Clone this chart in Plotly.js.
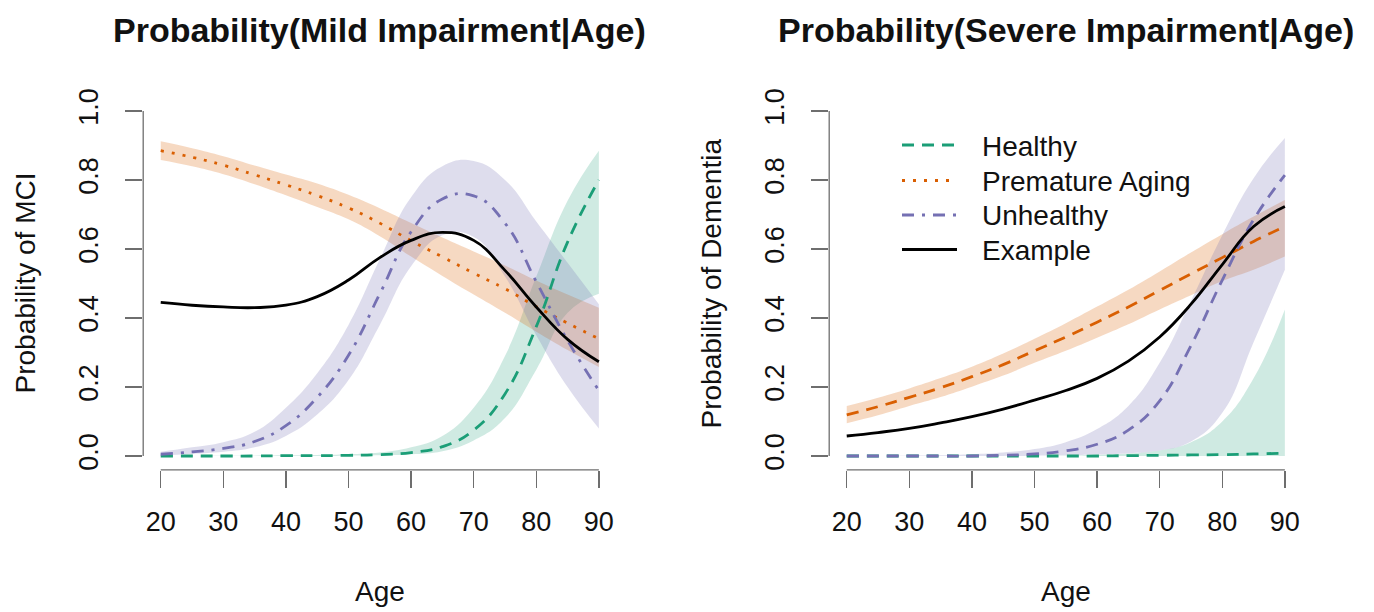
<!DOCTYPE html>
<html>
<head>
<meta charset="utf-8">
<script src="https://cdn.plot.ly/plotly-3.0.1.min.js"></script>
<style>
  html, body { margin: 0; padding: 0; background: #ffffff; }
  #chart { width: 1374px; height: 612px; }
</style>
</head>
<body>
<div id="chart"></div>
<script>
// ---------- data ----------
const ages = [20, 25, 30, 35, 40, 45, 50, 55, 60, 65, 70, 75, 80, 85, 90];
const xTicks = [20, 30, 40, 50, 60, 70, 80, 90];
const yTicks = [0, 0.2, 0.4, 0.6, 0.8, 1.0];
const yTickText = ['0.0', '0.2', '0.4', '0.6', '0.8', '1.0'];
const seriesNames = ['Healthy', 'Premature Aging', 'Unhealthy', 'Example'];

// Panel 1: Probability(Mild Impairment|Age)
const mildHealthy    = [0.000, 0.000, 0.000, 0.000, 0.001, 0.001, 0.002, 0.004, 0.010, 0.027, 0.075, 0.180, 0.375, 0.620, 0.800];
const mildHealthyLo  = [0.000, 0.000, 0.000, 0.000, 0.000, 0.000, 0.001, 0.002, 0.005, 0.014, 0.045, 0.110, 0.250, 0.415, 0.470];
const mildHealthyHi  = [0.000, 0.000, 0.001, 0.001, 0.002, 0.003, 0.005, 0.010, 0.025, 0.058, 0.140, 0.290, 0.520, 0.740, 0.885];
const mildPremature   = [0.885, 0.866, 0.843, 0.815, 0.786, 0.755, 0.719, 0.675, 0.624, 0.577, 0.530, 0.485, 0.433, 0.385, 0.340];
const mildPrematureLo = [0.858, 0.840, 0.817, 0.788, 0.756, 0.722, 0.686, 0.637, 0.578, 0.522, 0.468, 0.415, 0.360, 0.307, 0.258];
const mildPrematureHi = [0.912, 0.892, 0.869, 0.842, 0.816, 0.790, 0.757, 0.718, 0.675, 0.633, 0.593, 0.552, 0.509, 0.468, 0.430];
const mildUnhealthy   = [0.005, 0.012, 0.022, 0.042, 0.088, 0.170, 0.292, 0.470, 0.650, 0.745, 0.754, 0.675, 0.505, 0.335, 0.190];
const mildUnhealthyLo = [0.002, 0.006, 0.012, 0.025, 0.058, 0.120, 0.220, 0.380, 0.550, 0.640, 0.635, 0.520, 0.350, 0.200, 0.080];
const mildUnhealthyHi = [0.012, 0.025, 0.040, 0.070, 0.140, 0.240, 0.380, 0.570, 0.750, 0.840, 0.855, 0.800, 0.680, 0.560, 0.440];
const mildExample     = [0.445, 0.437, 0.432, 0.430, 0.437, 0.462, 0.510, 0.575, 0.625, 0.648, 0.625, 0.538, 0.432, 0.338, 0.273];

// Panel 2: Probability(Severe Impairment|Age)
const sevHealthy    = [0.000, 0.000, 0.000, 0.000, 0.000, 0.000, 0.000, 0.000, 0.000, 0.001, 0.002, 0.003, 0.004, 0.006, 0.008];
const sevHealthyLo  = [0.000, 0.000, 0.000, 0.000, 0.000, 0.000, 0.000, 0.000, 0.000, 0.000, 0.000, 0.000, 0.000, 0.000, 0.000];
const sevHealthyHi  = [0.000, 0.000, 0.000, 0.000, 0.000, 0.000, 0.000, 0.001, 0.003, 0.007, 0.016, 0.040, 0.100, 0.225, 0.425];
const sevPremature   = [0.119, 0.143, 0.170, 0.198, 0.230, 0.265, 0.305, 0.345, 0.388, 0.432, 0.480, 0.528, 0.575, 0.622, 0.665];
const sevPrematureLo = [0.095, 0.118, 0.145, 0.171, 0.201, 0.233, 0.270, 0.305, 0.343, 0.382, 0.425, 0.466, 0.507, 0.540, 0.578];
const sevPrematureHi = [0.145, 0.169, 0.196, 0.226, 0.259, 0.297, 0.340, 0.385, 0.433, 0.482, 0.535, 0.590, 0.643, 0.694, 0.742];
const sevUnhealthy   = [0.000, 0.000, 0.000, 0.000, 0.000, 0.002, 0.006, 0.015, 0.034, 0.075, 0.160, 0.320, 0.510, 0.685, 0.814];
const sevUnhealthyLo = [0.000, 0.000, 0.000, 0.000, 0.000, 0.000, 0.001, 0.002, 0.004, 0.008, 0.016, 0.042, 0.125, 0.330, 0.540];
const sevUnhealthyHi = [0.000, 0.000, 0.001, 0.002, 0.005, 0.010, 0.020, 0.040, 0.078, 0.145, 0.270, 0.450, 0.640, 0.805, 0.922];
const sevExample     = [0.058, 0.068, 0.080, 0.096, 0.114, 0.136, 0.162, 0.190, 0.225, 0.275, 0.345, 0.440, 0.555, 0.665, 0.723];

// ---------- styling ----------
const GREEN = '#1b9e77', ORANGE = '#d95f02', PURPLE = '#7570b3', BLACK = '#000000';
const GREEN_BAND = 'rgba(27,158,119,0.21)';
const ORANGE_BAND = 'rgba(217,95,2,0.24)';
const PURPLE_BAND = 'rgba(117,112,179,0.24)';
const DASHED = '12px,8px';
const DOTTED = '3px,8px';
const DASHDOT = '12px,8px,3px,8px';
const FONT = 'Liberation Sans, Arial, Helvetica, sans-serif';
const AXIS_GREY = '#6e6e6e';
const SMOOTH = 1.3;
const LINE_W = 2.8;

function band(xa, ya, lo, hi, fillColor) {
  return [
    { x: ages, y: lo, xaxis: xa, yaxis: ya, type: 'scatter', mode: 'lines',
      line: { width: 0, shape: 'spline', smoothing: SMOOTH }, hoverinfo: 'skip', showlegend: false },
    { x: ages, y: hi, xaxis: xa, yaxis: ya, type: 'scatter', mode: 'lines',
      line: { width: 0, shape: 'spline', smoothing: SMOOTH }, fill: 'tonexty', fillcolor: fillColor,
      hoverinfo: 'skip', showlegend: false }
  ];
}
function curve(xa, ya, vals, name, color, dash) {
  return { x: ages, y: vals, xaxis: xa, yaxis: ya, type: 'scatter', mode: 'lines', name: name,
    line: { color: color, width: LINE_W, dash: dash, shape: 'spline', smoothing: SMOOTH },
    showlegend: false };
}

// line styles as used in each panel (legend uses the left-panel styles)
const colors = [GREEN, ORANGE, PURPLE, BLACK];
const mildDash = [DASHED, DOTTED, DASHDOT, 'solid'];
const sevDash = [DASHED, DASHED, DASHED, 'solid'];

const traces = [].concat(
  band('x', 'y', mildHealthyLo, mildHealthyHi, GREEN_BAND),
  band('x', 'y', mildPrematureLo, mildPrematureHi, ORANGE_BAND),
  band('x', 'y', mildUnhealthyLo, mildUnhealthyHi, PURPLE_BAND),
  band('x2', 'y2', sevHealthyLo, sevHealthyHi, GREEN_BAND),
  band('x2', 'y2', sevPrematureLo, sevPrematureHi, ORANGE_BAND),
  band('x2', 'y2', sevUnhealthyLo, sevUnhealthyHi, PURPLE_BAND),
  [mildHealthy, mildPremature, mildUnhealthy, mildExample].map((v, i) =>
    curve('x', 'y', v, seriesNames[i], colors[i], mildDash[i])),
  [sevHealthy, sevPremature, sevUnhealthy, sevExample].map((v, i) =>
    curve('x2', 'y2', v, seriesNames[i], colors[i], sevDash[i]))
);

const W = 1374, H = 612;
const xDom1 = [143.2 / W, 616.4 / W];
const xDom2 = [829.2 / W, 1302.4 / W];
const yDom = [(H - 469.8) / H, (H - 97.2) / H];

function xAxis(domain, anchor) {
  return { domain: domain, anchor: anchor, range: [17.2, 92.8], tickvals: xTicks,
    ticks: 'outside', ticklen: 17, tickwidth: 1.3, tickcolor: AXIS_GREY,
    showline: false, showgrid: false, zeroline: false, fixedrange: true,
    ticklabelstandoff: 11,
    tickfont: { family: FONT, size: 27, color: '#111111' } };
}
function yAxis(domain, anchor) {
  return { domain: domain, anchor: anchor, range: [-0.04, 1.04], tickvals: yTicks, ticktext: yTickText,
    ticks: 'outside', ticklen: 17, tickwidth: 1.3, tickcolor: AXIS_GREY, tickangle: -90,
    showline: false, showgrid: false, zeroline: false, fixedrange: true,
    ticklabelstandoff: 16,
    tickfont: { family: FONT, size: 27, color: '#111111' } };
}

const axisLineStyle = { color: AXIS_GREY, width: 1.3 };
const shapes = [
  { type: 'line', xref: 'x', yref: 'paper', x0: xTicks[0], x1: xTicks[xTicks.length - 1], y0: yDom[0], y1: yDom[0], line: axisLineStyle },
  { type: 'line', xref: 'paper', yref: 'y', x0: xDom1[0], x1: xDom1[0], y0: yTicks[0], y1: yTicks[yTicks.length - 1], line: axisLineStyle },
  { type: 'line', xref: 'x2', yref: 'paper', x0: xTicks[0], x1: xTicks[xTicks.length - 1], y0: yDom[0], y1: yDom[0], line: axisLineStyle },
  { type: 'line', xref: 'paper', yref: 'y2', x0: xDom2[0], x1: xDom2[0], y0: yTicks[0], y1: yTicks[yTicks.length - 1], line: axisLineStyle }
];

const txt = (size, bold) => ({ family: FONT, size: size, color: '#111111', weight: bold ? 'bold' : 'normal' });
const annotations = [
  { text: 'Probability(Mild Impairment|Age)', xref: 'paper', yref: 'paper',
    x: (xDom1[0] + xDom1[1]) / 2, y: (H - 30) / H, xanchor: 'center', yanchor: 'middle', showarrow: false, font: txt(34, true) },
  { text: 'Probability(Severe Impairment|Age)', xref: 'paper', yref: 'paper',
    x: (xDom2[0] + xDom2[1]) / 2, y: (H - 30) / H, xanchor: 'center', yanchor: 'middle', showarrow: false, font: txt(34, true) },
  { text: 'Age', xref: 'paper', yref: 'paper', x: (xDom1[0] + xDom1[1]) / 2, y: (H - 591) / H,
    xanchor: 'center', yanchor: 'middle', showarrow: false, font: txt(28, false) },
  { text: 'Age', xref: 'paper', yref: 'paper', x: (xDom2[0] + xDom2[1]) / 2, y: (H - 591) / H,
    xanchor: 'center', yanchor: 'middle', showarrow: false, font: txt(28, false) },
  { text: 'Probability of MCI', xref: 'paper', yref: 'paper', x: 25 / W, y: (yDom[0] + yDom[1]) / 2,
    xanchor: 'center', yanchor: 'middle', textangle: -90, showarrow: false, font: txt(28, false) },
  { text: 'Probability of Dementia', xref: 'paper', yref: 'paper', x: 711 / W, y: (yDom[0] + yDom[1]) / 2,
    xanchor: 'center', yanchor: 'middle', textangle: -90, showarrow: false, font: txt(28, false) }
];

// legend drawn inside the right panel, as in the reference
const legendRowsPx = [145, 180.5, 215, 249.5];
seriesNames.forEach((name, i) => {
  const yp = (H - legendRowsPx[i]) / H;
  shapes.push({ type: 'line', xref: 'paper', yref: 'paper', x0: 902 / W, x1: 957 / W, y0: yp, y1: yp,
    line: { color: colors[i], width: LINE_W, dash: mildDash[i] } });
  annotations.push({ text: name, xref: 'paper', yref: 'paper', x: 980 / W, y: (H - legendRowsPx[i] - 1) / H,
    xanchor: 'left', yanchor: 'middle', showarrow: false, font: txt(28, false) });
});

const layout = {
  width: W, height: H,
  margin: { l: 0, r: 0, t: 0, b: 0 },
  paper_bgcolor: '#ffffff', plot_bgcolor: '#ffffff',
  showlegend: false,
  xaxis: xAxis(xDom1, 'y'), yaxis: yAxis(yDom, 'x'),
  xaxis2: xAxis(xDom2, 'y2'), yaxis2: yAxis(yDom, 'x2'),
  shapes: shapes, annotations: annotations
};

Plotly.newPlot('chart', traces, layout, { staticPlot: true, displayModeBar: false });
</script>
</body>
</html>
